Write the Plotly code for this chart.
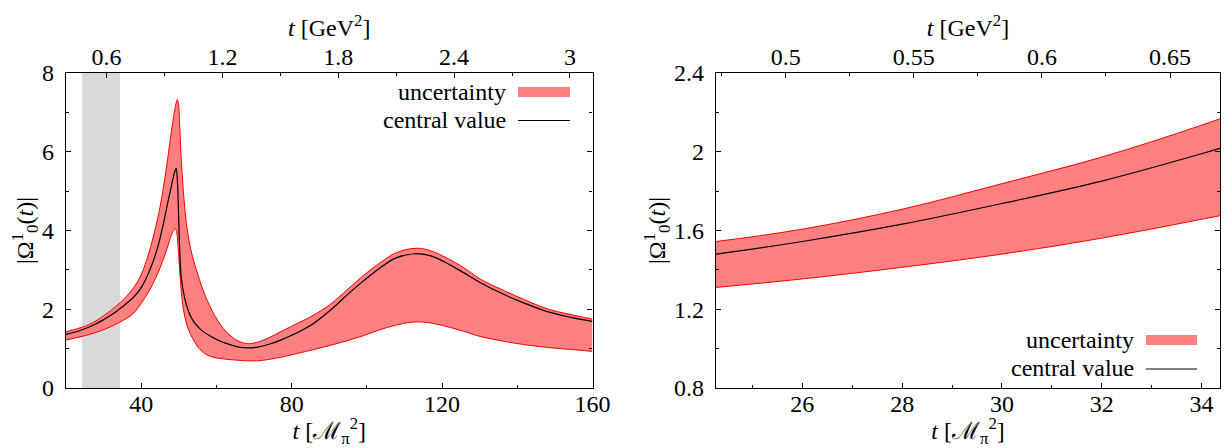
import plotly.graph_objects as go

# ---- data ----
MPI2_GEV2 = 0.13957 ** 2  # conversion t[M_pi^2] -> t[GeV^2]

t_central = [20, 22, 24.27, 26, 28, 30, 32, 34, 36, 38, 40, 42, 44, 45, 46, 47, 48, 48.6, 49.0, 49.3,
             49.6, 49.9, 50.2, 50.6, 51.2, 52.0, 53.0, 54.3, 56, 58.7, 61, 63.6, 66, 68.1, 71, 74,
             76.9, 80, 83, 85.8, 90.2, 94.7, 99.1, 103.5, 107.9, 112.8, 116.8, 121.3, 125.7, 130.1,
             136.8, 142, 148, 154, 160]
central = [1.36, 1.41, 1.48, 1.544, 1.632, 1.737, 1.851, 1.99, 2.14, 2.31, 2.55, 2.93, 3.45, 3.8, 4.22,
           4.68, 5.12, 5.38, 5.52, 5.58, 5.3, 4.5, 3.6, 2.85, 2.45, 2.12, 1.85, 1.64, 1.47, 1.3, 1.19,
           1.1, 1.04, 1.02, 1.04, 1.11, 1.21, 1.34, 1.48, 1.64, 1.97, 2.36, 2.72, 3.05, 3.31, 3.41,
           3.36, 3.17, 2.93, 2.68, 2.36, 2.15, 1.94, 1.8, 1.69]

t_upper = [20, 22, 24.27, 26, 28, 30, 32, 34, 36, 38, 40, 42, 44, 45, 46, 47, 48, 48.8, 49.3, 49.6,
           49.9, 50.2, 50.6, 51.2, 52.0, 53.0, 53.9, 55.5, 57, 59.2, 61, 62.7, 64.5, 66.3, 68, 69.5,
           72, 74.5, 76.9, 80, 83, 85.8, 90.2, 94.7, 99.1, 103.5, 107.9, 113.3, 116.8, 121.3, 125.7,
           130.1, 136.8, 142, 148, 154, 160]
upper = [1.43, 1.48, 1.544, 1.607, 1.708, 1.838, 1.973, 2.135, 2.32, 2.55, 2.88, 3.42, 4.15, 4.6, 5.15,
         5.8, 6.5, 7.0, 7.24, 7.32, 7.22, 6.75, 5.9, 5.0, 4.2, 3.6, 3.25, 2.75, 2.35, 1.9, 1.62, 1.42,
         1.27, 1.17, 1.13, 1.13, 1.2, 1.3, 1.42, 1.57, 1.71, 1.85, 2.12, 2.49, 2.86, 3.18, 3.44, 3.55,
         3.49, 3.3, 3.06, 2.77, 2.46, 2.24, 2.01, 1.87, 1.75]

t_lower = [20, 22, 24.27, 26, 28, 30, 32, 34, 36, 38, 40, 42, 44, 45, 46, 47, 48, 48.6, 49.0, 49.4,
           49.8, 50.3, 50.8, 51.5, 52.5, 53.9, 55.6, 57.5, 59.2, 61, 65, 70.7, 76, 81.4, 86, 90.2,
           94.7, 99.1, 103.5, 107.9, 113.3, 118.6, 125.7, 130.1, 136.8, 142, 148, 154, 160]
lower = [1.22, 1.26, 1.311, 1.354, 1.413, 1.48, 1.561, 1.657, 1.76, 1.9, 2.15, 2.45, 2.82, 3.05, 3.3,
         3.58, 3.88, 4.0, 4.05, 3.97, 3.6, 2.9, 2.3, 1.85, 1.5, 1.22, 0.98, 0.84, 0.78, 0.75, 0.71,
         0.69, 0.76, 0.875, 0.98, 1.08, 1.2, 1.33, 1.48, 1.6, 1.68, 1.62, 1.44, 1.31, 1.18, 1.1,
         1.03, 0.98, 0.93]

zoom_range = [24.27, 34.37]   # shaded region / right panel range
left_range = [20, 160]
legend_labels = ["uncertainty", "central value"]

# ---- styling ----
FONT = "Liberation Serif"
FS = 24
BAND = "#ff8080"
EDGE = "#ff0000"
SMOOTH = 1.0

fig = go.Figure()


def add_band(xa, ya):
    fig.add_trace(go.Scatter(x=t_lower, y=lower, mode="lines", xaxis=xa, yaxis=ya,
                             line=dict(color=EDGE, width=1, shape="spline", smoothing=SMOOTH),
                             showlegend=False, hoverinfo="skip"))
    fig.add_trace(go.Scatter(x=t_upper, y=upper, mode="lines", xaxis=xa, yaxis=ya, fill="tonexty",
                             fillcolor=BAND,
                             line=dict(color=EDGE, width=1, shape="spline", smoothing=SMOOTH),
                             showlegend=False, hoverinfo="skip"))
    fig.add_trace(go.Scatter(x=t_central, y=central, mode="lines", xaxis=xa, yaxis=ya,
                             line=dict(color="black", width=1.2, shape="spline", smoothing=SMOOTH),
                             showlegend=False))


add_band("x", "y")
add_band("x3", "y2")

# invisible traces to tie the GeV^2 axes
fig.add_trace(go.Scatter(x=[t * MPI2_GEV2 for t in t_central], y=central, xaxis="x2", yaxis="y",
                         mode="lines", line=dict(width=0), opacity=0, showlegend=False, hoverinfo="skip"))
fig.add_trace(go.Scatter(x=[t * MPI2_GEV2 for t in t_central], y=central, xaxis="x4", yaxis="y2",
                         mode="lines", line=dict(width=0), opacity=0, showlegend=False, hoverinfo="skip"))

# gray band in the left panel
fig.add_shape(type="rect", xref="x", yref="y domain", x0=zoom_range[0], x1=zoom_range[1], y0=0, y1=1,
              fillcolor="#d9d9d9", line=dict(width=0), layer="below")

ML, MR, MT, MB = 66, 5, 73, 60
W, H = 1225, 448
PW = W - ML - MR
PH = H - MT - MB


def px2paper(px):
    return (px - ML) / PW


def py2paper(py):
    return (H - MB - py) / PH


LEFT_DOM = [0, px2paper(592.5)]
RIGHT_DOM = [px2paper(716), 1]

tickfont = dict(family=FONT, size=FS, color="black")
common = dict(showline=True, linecolor="black", linewidth=1.2, showgrid=False, zeroline=False,
              ticks="inside", ticklen=5, tickwidth=1, tickcolor="black", tickfont=tickfont,
              automargin=False)
xbot = dict(common, ticklabelstandoff=-6)
xtop = dict(common, ticklabelstandoff=-3)
ycommon = dict(common, ticklabelstandoff=6)


def minor(d):
    return dict(dtick=d, ticks="inside", ticklen=3, tickwidth=1, tickcolor="black", showgrid=False)


xtitle = dict(text="<i>t</i> [ℳ<sub>π</sub><sup>2</sup>]", font=dict(family=FONT, size=FS), standoff=8)
x2title = dict(text="<i>t</i> [GeV<sup>2</sup>]", font=dict(family=FONT, size=FS), standoff=0)
ytitle = dict(text="|Ω<sup>1</sup><sub>0</sub>(<i>t</i>)|", font=dict(family=FONT, size=FS), standoff=0)

fig.update_layout(
    template="none",
    width=W, height=H, margin=dict(l=ML, r=MR, t=MT, b=MB),
    paper_bgcolor="white", plot_bgcolor="white",
    font=dict(family=FONT, size=FS, color="black"),
    showlegend=False,
    xaxis=dict(domain=LEFT_DOM, anchor="y", range=left_range, tick0=0, dtick=40, minor=minor(20),
               title=xtitle, **xbot),
    xaxis2=dict(overlaying="x", side="top", anchor="y",
                range=[left_range[0] * MPI2_GEV2, left_range[1] * MPI2_GEV2],
                tick0=0, dtick=0.6, minor=minor(0.3), title=x2title, **xtop),
    yaxis=dict(domain=[0, 1], anchor="x", range=[0, 8], tick0=0, dtick=2, minor=minor(1),
               mirror="ticks", title=ytitle, **ycommon),
    xaxis3=dict(domain=RIGHT_DOM, anchor="y2", range=zoom_range, tick0=0, dtick=2, minor=minor(1),
                title=xtitle, **xbot),
    xaxis4=dict(overlaying="x3", side="top", anchor="y2",
                range=[zoom_range[0] * MPI2_GEV2, zoom_range[1] * MPI2_GEV2],
                tick0=0, dtick=0.05, minor=minor(0.025), title=x2title, **xtop),
    yaxis2=dict(domain=[0, 1], anchor="x3", range=[0.8, 2.4], tick0=0, dtick=0.4, minor=minor(0.2),
                mirror="ticks", title=ytitle, **ycommon),
)


# ---- custom legends (text left of the key, as in the original) ----
def legend(text_right_px, box_x0, box_x1, y_unc, y_cen):
    fig.add_annotation(xref="paper", yref="paper", x=px2paper(text_right_px), y=py2paper(y_unc),
                       text=legend_labels[0], showarrow=False, xanchor="right", yanchor="middle",
                       font=dict(family=FONT, size=FS, color="black"))
    fig.add_annotation(xref="paper", yref="paper", x=px2paper(text_right_px), y=py2paper(y_cen),
                       text=legend_labels[1], showarrow=False, xanchor="right", yanchor="middle",
                       font=dict(family=FONT, size=FS, color="black"))
    fig.add_shape(type="rect", xref="paper", yref="paper", x0=px2paper(box_x0), x1=px2paper(box_x1),
                  y0=py2paper(y_unc + 5), y1=py2paper(y_unc - 5), fillcolor=BAND, line=dict(width=0))
    fig.add_shape(type="line", xref="paper", yref="paper", x0=px2paper(box_x0), x1=px2paper(box_x1),
                  y0=py2paper(y_cen + 1), y1=py2paper(y_cen + 1), line=dict(color="black", width=1.2))


legend(508, 518, 570, 92, 119.5)
legend(1136, 1146, 1197, 340, 368)

fig.write_html(
    "out.html",
    config={"displayModeBar": False},
    post_script="document.body.style.margin='0';document.body.style.padding='0';"
                "document.body.style.overflow='hidden';",
)
